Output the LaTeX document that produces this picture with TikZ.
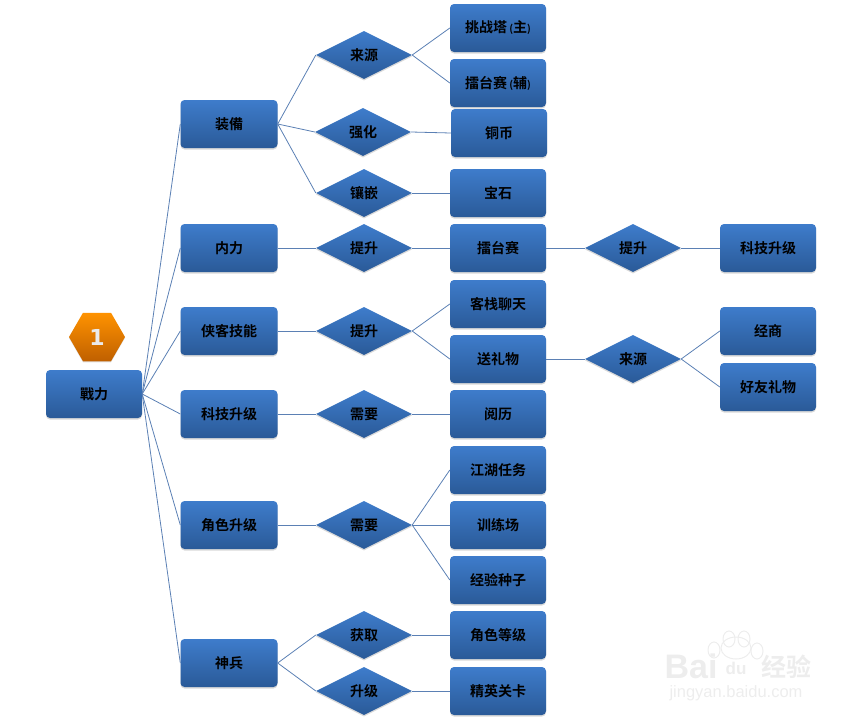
\documentclass[tikz,border=0pt]{standalone}
\usepackage{fontspec}
\setmainfont{Noto Sans CJK SC}[BoldFont={* Bold}]
\newfontfamily\numfont{DejaVu Sans}
\newfontfamily\markfont{Liberation Sans}
\usetikzlibrary{shapes.geometric,shadows}
\definecolor{boxtop}{HTML}{3E7CCB}
\definecolor{boxbot}{HTML}{2A5A98}
\definecolor{linkcol}{HTML}{5B80B4}
\definecolor{marklight}{HTML}{EDEDED}
\tikzset{
  cardshade/.style={top color=boxtop,bottom color=boxbot,text=black,
    font=\fontsize{14}{16}\selectfont\bfseries,inner sep=0pt,
    drop shadow={shadow xshift=0pt,shadow yshift=-1.5pt,opacity=0.3}},
  card/.style={cardshade,rectangle,rounded corners=4pt,minimum width=96pt,minimum height=48pt},
  rhomb/.style={cardshade,diamond,minimum width=96pt,minimum height=48pt},
  link/.style={draw=linkcol,line width=0.8pt}
}
\begin{document}
\begin{tikzpicture}[x=1pt,y=-1pt]
  \useasboundingbox (0,0) rectangle (862,723);

  % badge
  \node[regular polygon,regular polygon sides=6,minimum size=56pt,inner sep=0pt,
    top color=orange!85!yellow,bottom color=orange!75!black,text=white!92!black,
    font=\fontsize{22}{24}\numfont\bfseries,
    drop shadow={shadow xshift=0pt,shadow yshift=-1pt,opacity=0.25}] (badge) at (97,337) {1};

  % root and first level
  \node[card] (power) at (94,394) {戰力};
  \node[card,minimum width=97pt] (gear) at (229,124) {装備};
  \node[card,minimum width=97pt] (inner) at (229,248) {内力};
  \node[card,minimum width=97pt] (skill) at (229,331) {侠客技能};
  \node[card,minimum width=97pt] (tech) at (229,414) {科技升级};
  \node[card,minimum width=97pt] (role) at (229,525) {角色升级};
  \node[card,minimum width=97pt] (arms) at (229,663) {神兵};

  % diamonds
  \node[rhomb] (source) at (364,55) {来源};
  \node[rhomb] (boost) at (363,132) {强化};
  \node[rhomb] (inlay) at (364,193) {镶嵌};
  \node[rhomb] (innerup) at (364,248) {提升};
  \node[rhomb] (skillup) at (364,331) {提升};
  \node[rhomb] (techneed) at (364,414) {需要};
  \node[rhomb] (roleneed) at (364,525) {需要};
  \node[rhomb] (armsget) at (364,635) {获取};
  \node[rhomb] (armsup) at (364,691) {升级};

  % second column of boxes
  \node[card] (tower) at (498,28) {挑战塔\,{\fontsize{10}{12}\selectfont(}主{\fontsize{10}{12}\selectfont)}};
  \node[card] (arena) at (498,83) {擂台赛\,{\fontsize{10}{12}\selectfont(}辅{\fontsize{10}{12}\selectfont)}};
  \node[card] (coin) at (499,133) {铜币};
  \node[card] (gem) at (498,193) {宝石};
  \node[card] (ring) at (498,248) {擂台赛};
  \node[card] (chat) at (498,304) {客栈聊天};
  \node[card] (gift) at (498,359) {送礼物};
  \node[card] (exper) at (498,414) {阅历};
  \node[card] (quest) at (498,470) {江湖任务};
  \node[card] (train) at (498,525) {训练场};
  \node[card] (seed) at (498,580) {经验种子};
  \node[card] (level) at (498,635) {角色等级};
  \node[card] (elite) at (498,691) {精英关卡};

  % right side
  \node[rhomb] (ringup) at (633,248) {提升};
  \node[rhomb] (giftsrc) at (633,359) {来源};
  \node[card] (techup) at (768,248) {科技升级};
  \node[card] (trade) at (768,331) {经商};
  \node[card] (friend) at (768,387) {好友礼物};

  % links
  \draw[link] (power.east) -- (gear.west);
  \draw[link] (power.east) -- (inner.west);
  \draw[link] (power.east) -- (skill.west);
  \draw[link] (power.east) -- (tech.west);
  \draw[link] (power.east) -- (role.west);
  \draw[link] (power.east) -- (arms.west);
  \draw[link] (gear.east) -- (source.west);
  \draw[link] (gear.east) -- (boost.west);
  \draw[link] (gear.east) -- (inlay.west);
  \draw[link] (inner.east) -- (innerup.west);
  \draw[link] (skill.east) -- (skillup.west);
  \draw[link] (tech.east) -- (techneed.west);
  \draw[link] (role.east) -- (roleneed.west);
  \draw[link] (arms.east) -- (armsget.west);
  \draw[link] (arms.east) -- (armsup.west);
  \draw[link] (source.east) -- (tower.west);
  \draw[link] (source.east) -- (arena.west);
  \draw[link] (boost.east) -- (coin.west);
  \draw[link] (inlay.east) -- (gem.west);
  \draw[link] (innerup.east) -- (ring.west);
  \draw[link] (skillup.east) -- (chat.west);
  \draw[link] (skillup.east) -- (gift.west);
  \draw[link] (techneed.east) -- (exper.west);
  \draw[link] (roleneed.east) -- (quest.west);
  \draw[link] (roleneed.east) -- (train.west);
  \draw[link] (roleneed.east) -- (seed.west);
  \draw[link] (armsget.east) -- (level.west);
  \draw[link] (armsup.east) -- (elite.west);
  \draw[link] (ring.east) -- (ringup.west);
  \draw[link] (gift.east) -- (giftsrc.west);
  \draw[link] (ringup.east) -- (techup.west);
  \draw[link] (giftsrc.east) -- (trade.west);
  \draw[link] (giftsrc.east) -- (friend.west);

  % watermark
  \node[text=marklight,font=\fontsize{34}{36}\markfont\bfseries,inner sep=0pt] (markbai) at (691,666) {Bai};
  \node[text=marklight,font=\fontsize{17}{18}\markfont\bfseries,inner sep=0pt] (markdu) at (736,668) {du};
  \node[text=marklight,font=\fontsize{25}{27}\selectfont\bfseries,inner sep=0pt] (markjy) at (786,667) {经验};
  \node[text=marklight,font=\fontsize{16.5}{18}\markfont,inner sep=0pt] (markurl) at (736,693) {jingyan.baidu.com};
  \draw[marklight,line width=1pt] (736,648) ellipse (15 and 11);
  \draw[marklight,line width=1pt] (714,650) ellipse (6 and 8);
  \draw[marklight,line width=1pt] (729,639) ellipse (6 and 8);
  \draw[marklight,line width=1pt] (744,639) ellipse (6 and 8);
  \draw[marklight,line width=1pt] (757,651) ellipse (6 and 8);
\end{tikzpicture}
\end{document}
